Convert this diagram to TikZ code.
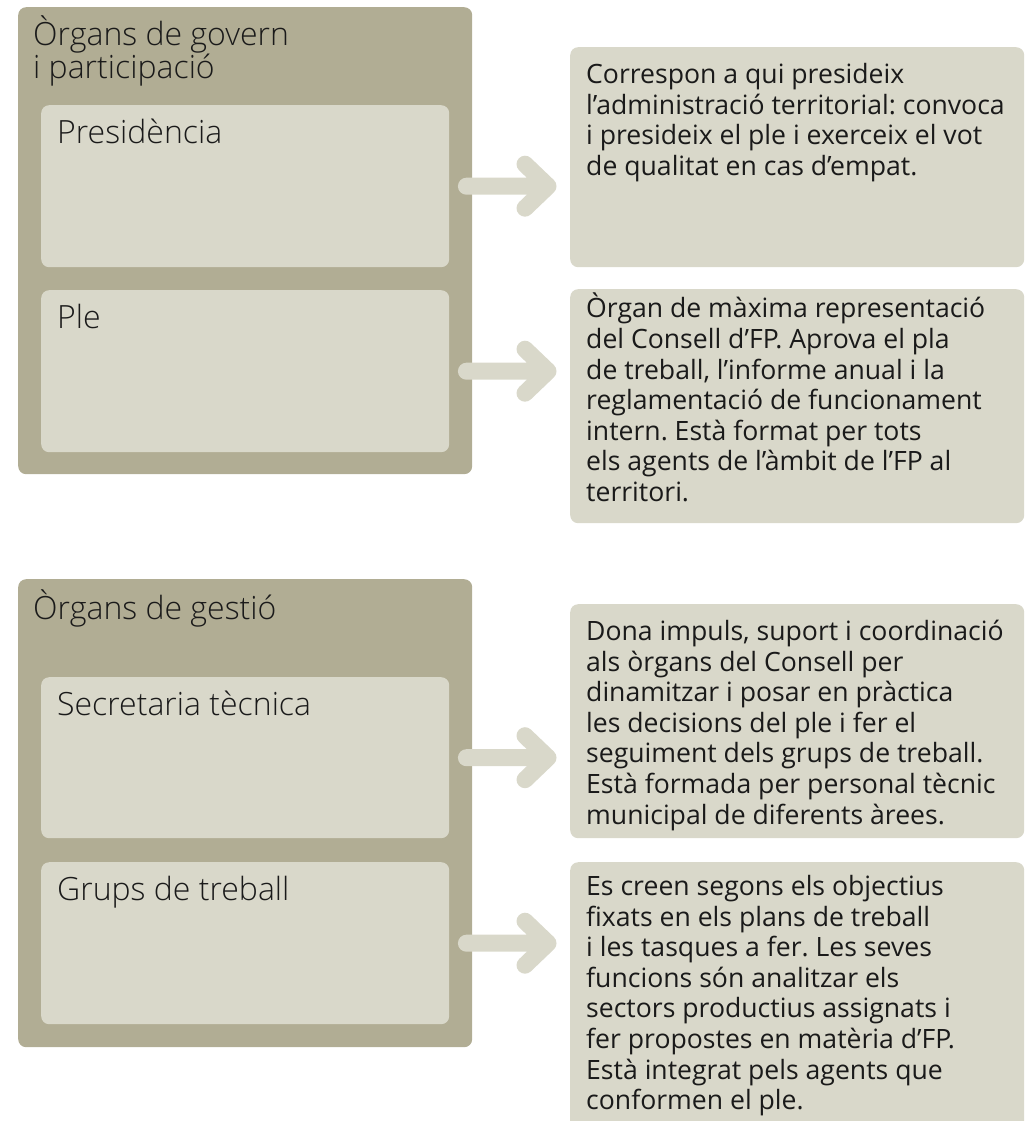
\documentclass[tikz,border=0pt]{standalone}
\usepackage{fontspec}
\setmainfont{Open Sans}
\newfontfamily\lightfont{Open Sans Light}
\frenchspacing
\usetikzlibrary{calc}
\definecolor{organbg}{HTML}{B1AD94}
\definecolor{itembg}{HTML}{D9D8CA}
\definecolor{ink}{HTML}{1A1A1A}
\begin{document}
\begin{tikzpicture}[x=1pt,y=-1pt,
    organ/.style={fill=organbg, rounded corners=8pt, anchor=north west, inner sep=0pt},
    item/.style={fill=itembg, rounded corners=8pt, anchor=north west, inner sep=0pt},
    title/.style={font=\lightfont\fontsize{32}{33}\selectfont, text=ink, inner sep=0pt, align=left},
    desc/.style={font=\fontsize{26.6}{30.6}\selectfont, text=ink, inner sep=0pt, align=left, anchor=north west},
    arr/.style={draw=itembg, line width=17pt, line cap=round, line join=round}]
  \useasboundingbox (0,0) rectangle (1034,1121);

  % organs de govern
  \node[organ, minimum width=454pt, minimum height=467pt] (govern) at (18,7) {};
  \node[item, minimum width=408pt, minimum height=162pt] (pres) at (41,105) {};
  \node[item, minimum width=408pt, minimum height=162pt] (ple) at (41,290) {};
  \node[title, anchor=north west] (governT) at (33,16) {Òrgans de govern\\i participació};
  \node[title, anchor=base west] (presT) at (57,143) {Presidència};
  \node[title, anchor=base west] (pleT) at (57,328) {Ple};

  % organs de gestio
  \node[organ, minimum width=454pt, minimum height=468pt] (gestio) at (18,579) {};
  \node[item, minimum width=408pt, minimum height=161pt] (secr) at (41,677) {};
  \node[item, minimum width=408pt, minimum height=162pt] (grups) at (41,862) {};
  \node[title, anchor=base west] (gestioT) at (33,619) {Òrgans de gestió};
  \node[title, anchor=base west] (secrT) at (57,715) {Secretaria tècnica};
  \node[title, anchor=base west] (grupsT) at (57,900) {Grups de treball};

  % descripcions
  \node[item, minimum width=454pt, minimum height=220pt] (dpres) at (570,47) {};
  \node[item, minimum width=454pt, minimum height=234pt] (dple) at (570,289) {};
  \node[item, minimum width=454pt, minimum height=234pt] (dsecr) at (570,604) {};
  \node[item, minimum width=454pt, minimum height=290pt] (dgrups) at (570,862) {};

  \node[desc] (dpresT) at (586,63) {Correspon a qui presideix\\l’administració territorial: convoca\\i presideix el ple i exerceix el vot\\de qualitat en cas d’empat.};
  \node[desc] (dpleT) at (586,293) {Òrgan de màxima representació\\del Consell d’FP. Aprova el pla\\de treball, l’informe anual i la\\reglamentació de funcionament\\intern. Està format per tots\\els agents de l’àmbit de l’FP al\\territori.};
  \node[desc] (dsecrT) at (586,620) {Dona impuls, suport i coordinació\\als òrgans del Consell per\\dinamitzar i posar en pràctica\\les decisions del ple i fer el\\seguiment dels grups de treball.\\Està formada per personal tècnic\\municipal de diferents àrees.};
  \node[desc] (dgrupsT) at (586,875) {Es creen segons els objectius\\fixats en els plans de treball\\i les tasques a fer. Les seves\\funcions són analitzar els\\sectors productius assignats i\\fer propostes en matèria d’FP.\\Està integrat pels agents que\\conformen el ple.};

  % fletxes
  \foreach \a/\b in {pres/dpres, ple/dple, secr/dsecr, grups/dgrups}{
    \coordinate (tip) at ($(\a.east -| \b.west)+(-22,0)$);
    \draw[arr] ($(\a.east)+(17,0)$) -- (tip)
      ($(tip)+(-23,-22)$) -- (tip) -- ($(tip)+(-23,22)$);
  }
\end{tikzpicture}
\end{document}
